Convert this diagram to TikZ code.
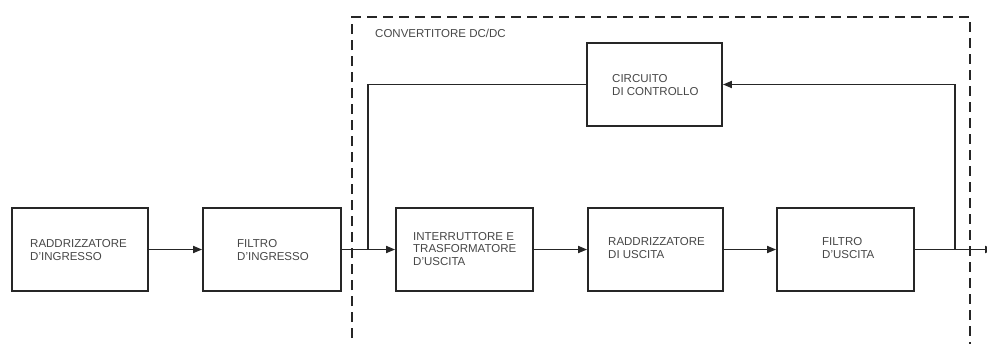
\documentclass[tikz,border=0pt]{standalone}
\usepackage{fontspec}
\setmainfont{Liberation Sans}
\usetikzlibrary{arrows.meta}
\begin{document}
\begin{tikzpicture}[x=1pt,y=-1pt,
  blk/.style={draw=black!85,line width=1.8pt,minimum width=#1,minimum height=83pt,inner sep=0pt},
  lbl/.style={anchor=west,align=left,inner sep=0pt,text=black!72,font=\fontsize{11.5}{12.5}\selectfont},
  wire/.style={draw=black!85,line width=1.7pt},
  arr/.style={wire,-{Triangle[length=9pt,width=7pt]}},
  dsh/.style={draw=black!85,line width=1.6pt,dash pattern=on 10pt off 6pt}]
\useasboundingbox (0,0) rectangle (987,343);
\clip (0,0) rectangle (987,343);
\fill[white] (0,0) rectangle (987,343);
% dashed converter frame
\draw[dsh] (352,370) -- (352,17) -- (970,17) -- (970,370);
\node[lbl] (conv) at (375,33) {CONVERTITORE DC/DC};
% blocks
\node[blk=136pt] (rin) at (80,249.5) {};
\node[blk=138pt] (fin) at (272,249.5) {};
\node[blk=137pt] (int) at (464.5,249.5) {};
\node[blk=135pt] (rus) at (655.5,249.5) {};
\node[blk=137pt] (fus) at (845.5,249.5) {};
\node[blk=135pt] (ctl) at (654.5,84.5) {};
% labels
\node[lbl] (trin) at (30,250) {RADDRIZZATORE\\D'INGRESSO};
\node[lbl] (tfin) at (237,250) {FILTRO\\D'INGRESSO};
\node[lbl] (tint) at (413,249) {INTERRUTTORE E\\TRASFORMATORE\\D'USCITA};
\node[lbl] (trus) at (608,248) {RADDRIZZATORE\\DI USCITA};
\node[lbl] (tfus) at (822,248) {FILTRO\\D'USCITA};
\node[lbl] (tctl) at (612,85) {CIRCUITO\\DI CONTROLLO};
% connectors
\coordinate (j1) at (368,249.5);
\coordinate (j2) at (955,249.5);
\coordinate (out) at (994,249.5);
\draw[arr] (rin.east) -- (fin.west);
\draw[arr] (fin.east) -- (int.west);
\draw[arr] (int.east) -- (rus.west);
\draw[arr] (rus.east) -- (fus.west);
\draw[arr] (fus.east) -- (out);
\draw[arr] (j2) |- (ctl.east);
\draw[wire] (ctl.west) -| (j1);
\end{tikzpicture}
\end{document}
